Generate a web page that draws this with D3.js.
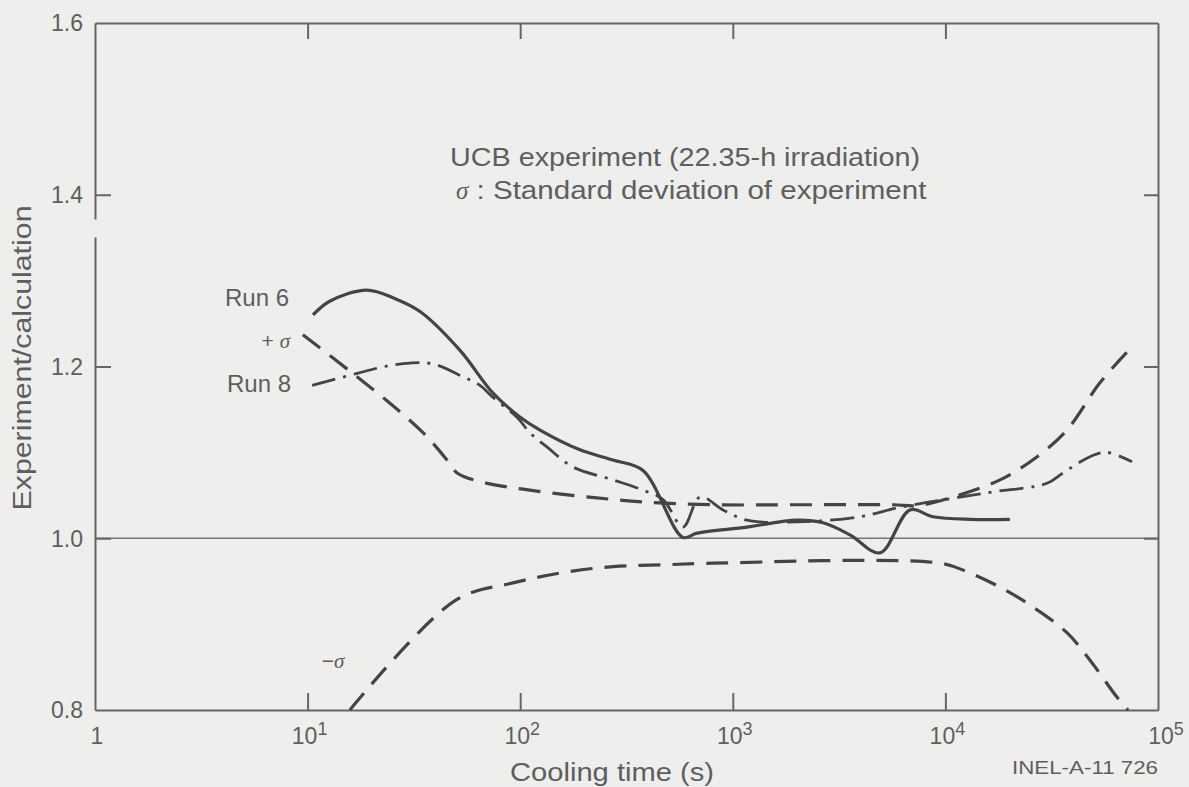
<!DOCTYPE html>
<html>
<head>
<meta charset="utf-8">
<script src="https://cdn.jsdelivr.net/npm/d3@7"></script>
<style>
  html, body { margin: 0; padding: 0; background: #eeeeec; }
  svg { display: block; }
  text { font-family: "Liberation Sans", Arial, Helvetica, sans-serif; fill: #5e5e5e; }
</style>
</head>
<body>
<svg id="chart" width="1189" height="787"></svg>
<script>
// Cooling-time decades on the x axis (10^0 .. 10^5)
const decadeExponents = [0, 1, 2, 3, 4, 5];
const yTickValues = [0.8, 1.0, 1.2, 1.4, 1.6];
const yTickLabels = ["0.8", "1.0", "1.2", "1.4", "1.6"];

// Run 6: experiment/calculation ratio vs cooling time (s)
const run6Time  = [10.6, 12.7, 19, 25.8, 33.8, 52, 74.5, 100, 124, 191, 273, 378, 583, 679, 1167, 2004, 2656, 3556, 4922, 6810, 8750, 13060, 20100];
const run6Ratio = [1.260, 1.276, 1.289, 1.279, 1.264, 1.219, 1.169, 1.141, 1.126, 1.103, 1.091, 1.079, 1.001, 1.006, 1.013, 1.021, 1.018, 1.004, 0.983, 1.033, 1.025, 1.022, 1.022];

// Run 8
const run8Time  = [10.5, 17.1, 23.1, 30.3, 38.9, 53.8, 64.7, 74.5, 96.6, 111, 134, 177, 273, 378, 470, 583, 702, 900, 1167, 2004, 3966, 6113, 11720, 16750, 30060, 35700, 47900, 57500, 75500];
const run8Ratio = [1.178, 1.192, 1.200, 1.204, 1.203, 1.188, 1.178, 1.164, 1.141, 1.123, 1.106, 1.083, 1.068, 1.056, 1.045, 1.013, 1.048, 1.033, 1.021, 1.019, 1.025, 1.036, 1.048, 1.054, 1.064, 1.076, 1.095, 1.100, 1.089];

// +sigma band of the experiment
const plusSigmaTime  = [9.5, 17.1, 22.6, 34.9, 45.3, 50.5, 64.7, 111, 230, 395, 807, 2003, 5668, 7350, 10500, 18070, 27000, 37300, 53300, 75500];
const plusSigmaRatio = [1.237, 1.188, 1.164, 1.123, 1.091, 1.076, 1.066, 1.056, 1.047, 1.042, 1.039, 1.039, 1.039, 1.038, 1.047, 1.068, 1.095, 1.126, 1.181, 1.223];

// -sigma band of the experiment
const minusSigmaTime  = [15.8, 49.8, 92.5, 159, 273, 470, 807, 9440, 12640, 18070, 25800, 37300, 47900, 64100, 72300];
const minusSigmaRatio = [0.800, 0.928, 0.948, 0.960, 0.967, 0.969, 0.971, 0.971, 0.961, 0.943, 0.920, 0.890, 0.858, 0.815, 0.800];

const svg = d3.select("#chart");
const plotLeft = 95, plotRight = 1158, plotTop = 23, plotBottom = 710;
const ink = "#444";

const x = d3.scaleLog().domain([1, 1e5]).range([plotLeft, plotRight]);
const y = d3.scaleLinear().domain([0.8, 1.6]).range([plotBottom, plotTop]);

// Reference line at ratio 1.0
svg.append("line")
  .attr("x1", plotLeft).attr("x2", plotRight)
  .attr("y1", y(1.0)).attr("y2", y(1.0))
  .attr("stroke", "#777").attr("stroke-width", 1.5);

// Axes with inward ticks
const decades = decadeExponents.map(e => Math.pow(10, e));
const axisStyle = g => {
  g.selectAll("path.domain").attr("stroke", "#666").attr("stroke-width", 2);
  g.selectAll(".tick line").attr("stroke", "#666").attr("stroke-width", 2);
};

svg.append("g").attr("transform", `translate(0,${plotBottom})`)
  .call(d3.axisBottom(x).tickValues(decades.slice(1, 5)).tickSize(-17).tickSizeOuter(0).tickFormat(""))
  .call(axisStyle);
svg.append("g").attr("transform", `translate(0,${plotTop})`)
  .call(d3.axisTop(x).tickValues(decades.slice(1, 5)).tickSize(-16).tickSizeOuter(0).tickFormat(""))
  .call(axisStyle);
const gLeft = svg.append("g").attr("transform", `translate(${plotLeft},0)`)
  .call(d3.axisLeft(y).tickValues([1.0, 1.2, 1.4]).tickSize(-16).tickSizeOuter(0).tickFormat(""))
  .call(axisStyle);
svg.append("g").attr("transform", `translate(${plotRight},0)`)
  .call(d3.axisRight(y).tickValues([1.0, 1.2, 1.4]).tickSize(-14).tickSizeOuter(0).tickFormat(""))
  .call(axisStyle);
// small break in the left frame line
gLeft.select("path.domain").attr("stroke-dasharray", `${plotBottom - 237},18,2000`);

// Y tick labels
svg.append("g").selectAll("text").data(yTickValues).join("text")
  .attr("x", plotLeft - 12).attr("y", d => y(d))
  .attr("dy", "0.36em").attr("text-anchor", "end")
  .attr("font-size", 23)
  .text((d, i) => yTickLabels[i]);

// X tick labels: 1, 10^1 ... 10^5
const xl = svg.append("g").selectAll("text").data(decadeExponents).join("text")
  .attr("x", d => x(Math.pow(10, d)) + (d === 5 ? 8 : 2))
  .attr("y", plotBottom + 34)
  .attr("text-anchor", "middle")
  .attr("font-size", 23);
xl.each(function(d) {
  const t = d3.select(this);
  if (d === 0) { t.text("1"); return; }
  t.append("tspan").text("10");
  t.append("tspan").attr("dy", -9).attr("font-size", 18).text(String(d));
});

// Axis titles
svg.append("text")
  .attr("x", 612).attr("y", 781)
  .attr("text-anchor", "middle").attr("font-size", 25)
  .attr("textLength", 204).attr("lengthAdjust", "spacingAndGlyphs")
  .text("Cooling time (s)");
svg.append("text")
  .attr("transform", "translate(31,358) rotate(-90)")
  .attr("text-anchor", "middle").attr("font-size", 25)
  .attr("textLength", 305).attr("lengthAdjust", "spacingAndGlyphs")
  .text("Experiment/calculation");

// Figure id
svg.append("text")
  .attr("x", 1012).attr("y", 774)
  .attr("font-size", 18)
  .attr("textLength", 146).attr("lengthAdjust", "spacingAndGlyphs")
  .text("INEL-A-11 726");

// Annotation block
svg.append("text")
  .attr("x", 450).attr("y", 166).attr("font-size", 25)
  .attr("textLength", 470).attr("lengthAdjust", "spacingAndGlyphs")
  .text("UCB experiment (22.35-h irradiation)");
const sig = svg.append("text")
  .attr("x", 456).attr("y", 199).attr("font-size", 25);
sig.append("tspan").attr("font-family", "Liberation Serif, serif").attr("font-style", "italic").text("σ");
sig.append("tspan").attr("textLength", 458).attr("lengthAdjust", "spacingAndGlyphs").text(" : Standard deviation of experiment");

// Series
const line = d3.line().x(d => x(d[0])).y(d => y(d[1])).curve(d3.curveCatmullRom.alpha(0.5));
const zip = (a, b) => a.map((t, i) => [t, b[i]]);

svg.append("path").datum(zip(plusSigmaTime, plusSigmaRatio))
  .attr("d", line).attr("fill", "none").attr("stroke", ink)
  .attr("stroke-width", 3.2).attr("stroke-dasharray", "22,12");
svg.append("path").datum(zip(minusSigmaTime, minusSigmaRatio))
  .attr("d", line).attr("fill", "none").attr("stroke", ink)
  .attr("stroke-width", 3.2).attr("stroke-dasharray", "22,12");
svg.append("path").datum(zip(run8Time, run8Ratio))
  .attr("d", line).attr("fill", "none").attr("stroke", ink)
  .attr("stroke-width", 2.8).attr("stroke-dasharray", "24,8,3,8");
svg.append("path").datum(zip(run6Time, run6Ratio))
  .attr("d", line).attr("fill", "none").attr("stroke", ink)
  .attr("stroke-width", 3.2).attr("stroke-linejoin", "round");

// Curve labels
svg.append("text").attr("x", 289).attr("y", 306).attr("text-anchor", "end").attr("font-size", 24).text("Run 6");
svg.append("text").attr("x", 291).attr("y", 392).attr("text-anchor", "end").attr("font-size", 24).text("Run 8");
const ps = svg.append("text").attr("x", 290).attr("y", 348).attr("text-anchor", "end").attr("font-size", 21);
ps.append("tspan").text("+ ");
ps.append("tspan").attr("font-family", "Liberation Serif, serif").attr("font-style", "italic").text("σ");
const ms = svg.append("text").attr("x", 333).attr("y", 668).attr("text-anchor", "middle").attr("font-size", 21);
ms.append("tspan").text("−");
ms.append("tspan").attr("font-family", "Liberation Serif, serif").attr("font-style", "italic").text("σ");
</script>
</body>
</html>
